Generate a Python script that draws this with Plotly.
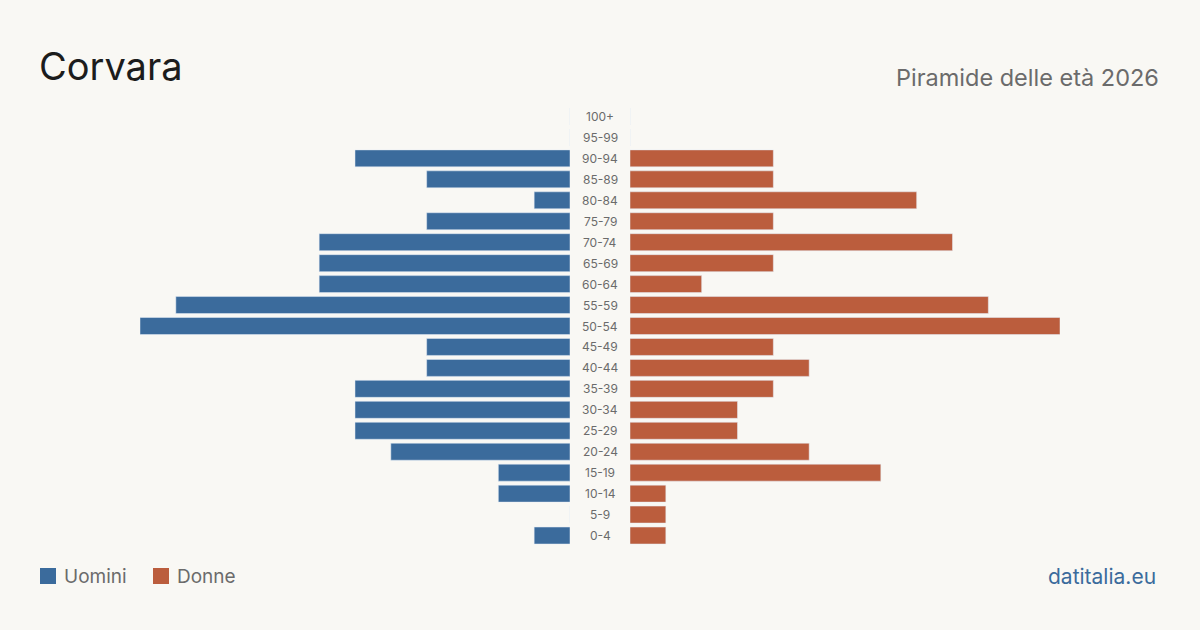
import plotly.graph_objects as go

age_groups = ["0-4", "5-9", "10-14", "15-19", "20-24", "25-29", "30-34", "35-39",
              "40-44", "45-49", "50-54", "55-59", "60-64", "65-69", "70-74",
              "75-79", "80-84", "85-89", "90-94", "95-99", "100+"]
men = [1, 0, 2, 2, 5, 6, 6, 6, 4, 4, 12, 11, 7, 7, 7, 4, 1, 4, 6, 0, 0]
women = [1, 1, 1, 7, 5, 3, 3, 4, 5, 4, 12, 10, 2, 4, 9, 4, 8, 4, 4, 0, 0]

title = "Corvara"
subtitle = "Piramide delle età 2026"
legend_labels = ["Uomini", "Donne"]
source = "datitalia.eu"

BLUE = "#3b6b9c"
ORANGE = "#bb5d3d"
BG = "#f9f8f4"
FONT = "Inter, Roboto, sans-serif"

W, H = 1200, 630
xmax = 12

fig = go.Figure()
fig.add_trace(go.Bar(y=age_groups, x=men, orientation="h", marker_color=BLUE,
                     xaxis="x", yaxis="y", showlegend=False, name=legend_labels[0]))
fig.add_trace(go.Bar(y=age_groups, x=women, orientation="h", marker_color=ORANGE,
                     xaxis="x2", yaxis="y", showlegend=False, name=legend_labels[1]))

ann = []
for g in age_groups:
    ann.append(dict(x=600 / W, xref="paper", y=g, yref="y", text=g, showarrow=False,
                    xanchor="center", yanchor="middle",
                    font=dict(family=FONT, size=12, color="#6b6b6b")))

ann.append(dict(x=37 / W, xref="paper", y=1 - 66 / H, yref="paper", text=title,
                showarrow=False, xanchor="left", yanchor="middle",
                font=dict(family=FONT, size=38, color="#1c1c1c")))
ann.append(dict(x=1161 / W, xref="paper", y=1 - 77 / H, yref="paper", text=subtitle,
                showarrow=False, xanchor="right", yanchor="middle",
                font=dict(family=FONT, size=23.5, color="#6b6b6b")))
ann.append(dict(x=62 / W, xref="paper", y=1 - 576 / H, yref="paper", text=legend_labels[0],
                showarrow=False, xanchor="left", yanchor="middle",
                font=dict(family=FONT, size=19, color="#6b6b6b")))
ann.append(dict(x=175 / W, xref="paper", y=1 - 576 / H, yref="paper", text=legend_labels[1],
                showarrow=False, xanchor="left", yanchor="middle",
                font=dict(family=FONT, size=19, color="#6b6b6b")))
ann.append(dict(x=1158 / W, xref="paper", y=1 - 576 / H, yref="paper", text=source,
                showarrow=False, xanchor="right", yanchor="middle",
                font=dict(family=FONT, size=21, color="#3b6b9c")))

shapes = [
    dict(type="rect", xref="paper", yref="paper", x0=40 / W, x1=56 / W,
         y0=1 - 584 / H, y1=1 - 568 / H, fillcolor=BLUE, line_width=0),
    dict(type="rect", xref="paper", yref="paper", x0=153 / W, x1=169 / W,
         y0=1 - 584 / H, y1=1 - 568 / H, fillcolor=ORANGE, line_width=0),
]

fig.update_layout(
    width=W, height=H,
    paper_bgcolor=BG, plot_bgcolor="rgba(0,0,0,0)",
    margin=dict(l=0, r=0, t=0, b=0),
    bargap=0.19,
    xaxis=dict(domain=[140 / W, 570 / W], range=[xmax, 0], visible=False, fixedrange=True),
    xaxis2=dict(domain=[630 / W, 1060 / W], range=[0, xmax], visible=False, fixedrange=True),
    yaxis=dict(domain=[84 / H, 1 - 106 / H], categoryorder="array", categoryarray=age_groups,
               range=[-0.5, len(age_groups) - 0.5], visible=False, fixedrange=True),
    annotations=ann,
    shapes=shapes,
    font=dict(family=FONT),
)

fig.write_html("out.html", config={"displayModeBar": False})
